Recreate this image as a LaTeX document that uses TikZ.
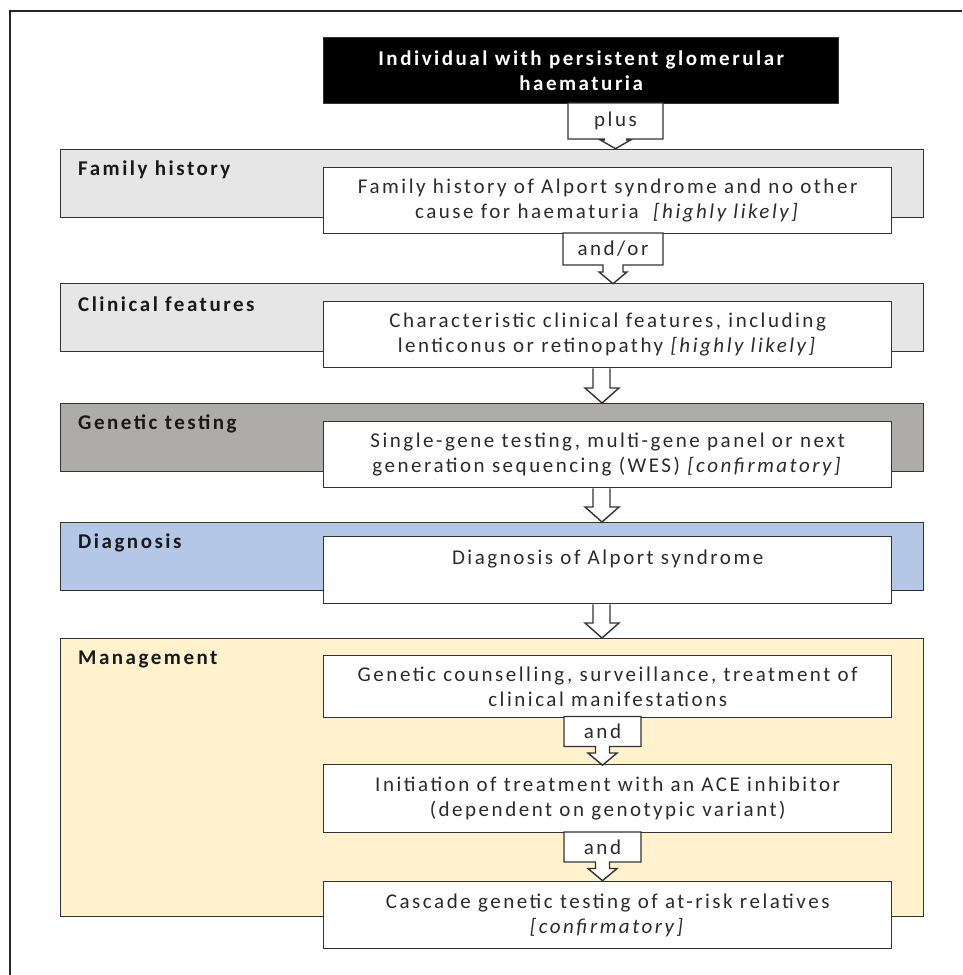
\documentclass[tikz,border=0pt]{standalone}
\usepackage{fontspec}
\setmainfont{Carlito}[LetterSpace=12]
\usepackage{tikz}
\usetikzlibrary{positioning}
\usetikzlibrary{shapes.arrows}
\usetikzlibrary{calc}
\definecolor{bandgray}{HTML}{E7E6E6}
\definecolor{bandgrey}{HTML}{AEABAB}
\definecolor{bandblue}{HTML}{B4C7E7}
\definecolor{bandyellow}{HTML}{FFF2CC}
\definecolor{inkgray}{HTML}{2B2B2B}
\tikzstyle{outline}=[draw=black!80, line width=1.4pt]
\tikzstyle{band}=[outline, rectangle, anchor=north west, minimum width=863pt, inner sep=0pt]
\tikzstyle{tag}=[anchor=west, inner sep=0pt, font=\fontsize{21}{25}\selectfont\bfseries, text=black!90]
\tikzstyle{stagebox}=[outline, fill=white, anchor=north west, minimum width=568pt, align=center,
	inner sep=0pt, text=inkgray, font=\fontsize{21}{25}\selectfont]
\tikzstyle{linkbox}=[outline, fill=white, shape=arrow box, inner sep=0pt, text=inkgray,
	font=\fontsize{21}{25}\selectfont, line join=miter]
\newcommand{\hollowarrow}[2]{%
	\draw[outline, fill=white, line join=miter] let \p1=(#1.south), \p2=(#2.north) in
		(593pt,\y1)--(593pt,\y2+15pt)--(585pt,\y2+15pt)--(602pt,\y2)--
		(619pt,\y2+15pt)--(610pt,\y2+15pt)--(610pt,\y1);}

\begin{document}
\begin{tikzpicture}[x=1pt, y=-1pt]
	\useasboundingbox (0,0) rectangle (962,975);
	\draw[line width=1.5pt, black!85] (10,975)--(10,11)--(962,11);
	\foreach \n/\y/\h/\c/\t in {fam/149/68/bandgray/Family history,
			clin/283/68/bandgray/Clinical features,
			gen/403/68/bandgrey/Genetic testing,
			diag/522/68/bandblue/Diagnosis,
			mgmt/638/278/bandyellow/Management} {
		\node[band, fill=\c, minimum height=\h pt] (\n band) at (60,\y) {};
		\node[tag] (\n tag) at ($(\n band.north west)+(18,21)$) {\t};}
	\node[outline, fill=black, text=white, anchor=north west, minimum width=515pt, minimum height=66pt,
		align=center, inner sep=0pt, font=\fontsize{21}{25}\selectfont\bfseries] (start) at (323,37)
		{Individual with persistent glomerular\\haematuria};
	\node[stagebox, minimum height=66pt] (fambox) at (323,167)
		{Family history of Alport syndrome and no other\\cause for haematuria\ \ \textit{[highly likely]}};
	\node[stagebox, minimum height=66pt] (clinbox) at (323,301)
		{Characteristic clinical features, including\\lenticonus or retinopathy \textit{[highly likely]}};
	\node[stagebox, minimum height=66pt] (genbox) at (323,421)
		{Single-gene testing, multi-gene panel or next\\generation sequencing (WES) \textit{[confirmatory]}};
	\node[stagebox, minimum height=67pt] (diagbox) at (323,536)
		{Diagnosis of Alport syndrome\\\mbox{}};
	\node[stagebox, minimum height=62pt] (carebox) at (323,655)
		{Genetic counselling, surveillance, treatment of\\clinical manifestations};
	\node[stagebox, minimum height=68pt] (acebox) at (323,764)
		{Initiation of treatment with an ACE inhibitor\\(dependent on genotypic variant)};
	\node[stagebox, minimum height=67pt] (cascbox) at (323,881)
		{Cascade genetic testing of at-risk relatives\\\textit{[confirmatory]}};
	\node[linkbox, minimum width=95pt, minimum height=36pt, arrow box arrows={south:9pt from border},
		arrow box shaft width=22pt, arrow box head extend=4pt, arrow box tip angle=120] (plus) at (615.5,121) {plus};
	\node[linkbox, minimum width=100pt, minimum height=32pt, arrow box arrows={south:18pt from border},
		arrow box shaft width=20pt, arrow box head extend=4pt, arrow box tip angle=100] (andor) at (613,249) {and/or};
	\foreach \n/\y in {and1/731.5, and2/847} {
		\node[linkbox, minimum width=77pt, minimum height=30pt, arrow box arrows={south:18pt from border},
			arrow box shaft width=14pt, arrow box head extend=7.5pt, arrow box tip angle=100] (\n) at (602.5,\y) {and};}
	\foreach \a/\b in {clinbox/genband, genbox/diagband, diagbox/mgmtband} {
		\hollowarrow{\a}{\b}}
\end{tikzpicture}
\end{document}
